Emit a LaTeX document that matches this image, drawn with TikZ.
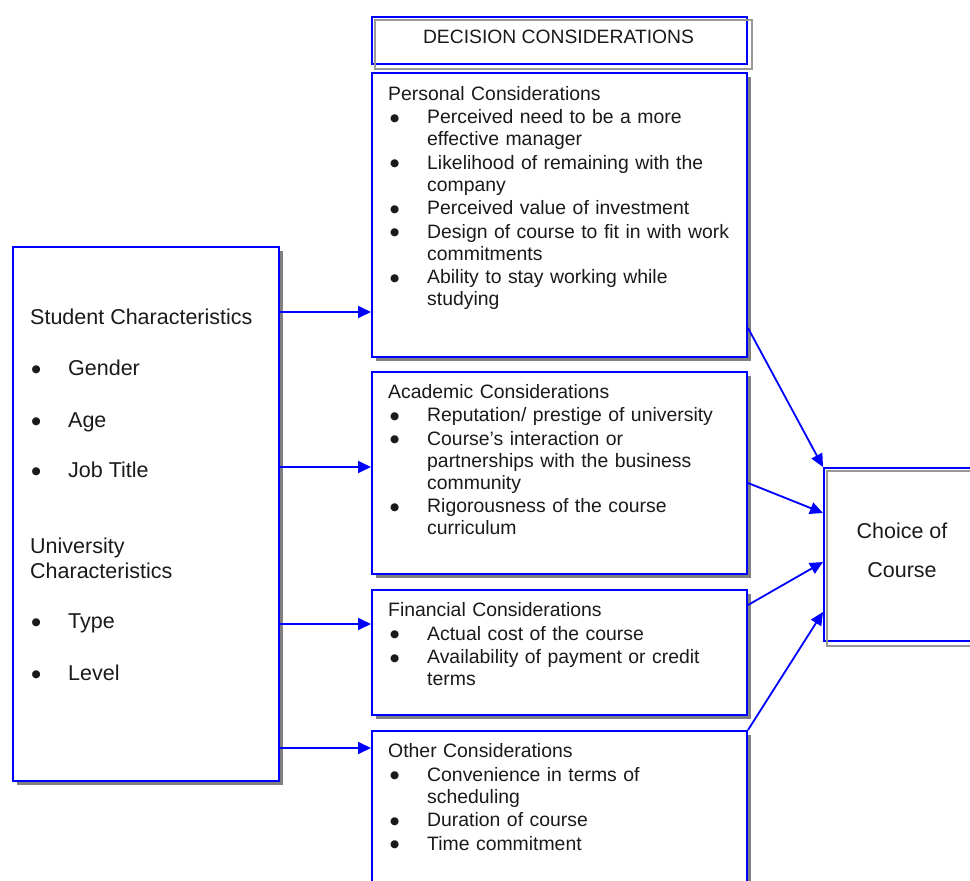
\documentclass[tikz,border=0pt]{standalone}
\usepackage{fontspec}
\setmainfont{Liberation Sans}
\newfontfamily\symfont{DejaVu Sans}
\usetikzlibrary{arrows.meta,shadows}

\definecolor{lineblue}{RGB}{0,0,255}
\definecolor{shadowgray}{RGB}{128,128,128}
\definecolor{ink}{RGB}{26,26,26}

% round bullet glyph
\newcommand\bigbul{\raisebox{2.6pt}{\symfont\fontsize{10.5}{10.5}\selectfont ●}}
% bulleted entry with a hanging indent
\newcommand\itm[1]{\par\hangindent=39pt\hangafter=1\noindent\makebox[39pt][l]{\hspace{1.8pt}\bigbul}#1\par}
% bullet line for the characteristics column
\newcommand\cbul[1]{\makebox[38pt][l]{\hspace{1.3pt}\bigbul}#1}

\begin{document}
\begin{tikzpicture}[x=1pt,y=-1pt,
  conbox/.style={rectangle, draw=lineblue, line width=2pt, fill=white, inner sep=0pt, anchor=north west,
    drop shadow={shadow xshift=3.5pt, shadow yshift=-3.5pt, fill=shadowgray, opacity=1}},
  hdrbox/.style={rectangle, draw=lineblue, line width=2pt, inner sep=0pt, anchor=north west},
  ghost/.style={draw=shadowgray!80, line width=1.5pt},
  lst/.style={anchor=north west, inner sep=0pt, text width=355pt, align=left, text=ink,
    font=\fontsize{19.4}{22}\selectfont},
  bigtext/.style={inner sep=0pt, text=ink, font=\fontsize{21.5}{25}\selectfont},
  arr/.style={draw=lineblue, line width=1.8pt, -{Triangle[length=13pt,width=12pt]}}
]
\useasboundingbox (0,0) rectangle (970,881);
\clip (0,0) rectangle (970,881);

% heading box
\node[hdrbox, minimum width=375pt, minimum height=47pt] (hdr) at (371,16) {};
\draw[ghost] ([shift={(4pt,-4pt)}]hdr.north west) rectangle ([shift={(4pt,-4pt)}]hdr.south east);
\node[anchor=base, inner sep=0pt, text=ink, font=\fontsize{19.3}{22}\selectfont] (hdrtxt) at (558.5,43) {DECISION CONSIDERATIONS};

% consideration boxes
\node[conbox, minimum width=375pt, minimum height=284pt] (pers) at (371,72) {};
\node[conbox, minimum width=375pt, minimum height=202pt] (acad) at (371,371) {};
\node[conbox, minimum width=375pt, minimum height=125pt] (fin) at (371,589) {};
\node[conbox, minimum width=375pt, minimum height=180pt] (oth) at (371,730) {};

\node[lst] (perstxt) at (388,84.5) {\setlength{\parskip}{1.5pt}\strut Personal Considerations
\itm{Perceived need to be a more\newline effective manager}
\itm{Likelihood of remaining with the\newline company}
\itm{Perceived value of investment}
\itm{Design of course to fit in with work\newline commitments}
\itm{Ability to stay working while\newline studying}};

\node[lst] (acadtxt) at (388,382.5) {\setlength{\parskip}{1.5pt}\strut Academic Considerations
\itm{Reputation/ prestige of university}
\itm{Course’s interaction or\newline partnerships with the business\newline community}
\itm{Rigorousness of the course\newline curriculum}};

\node[lst] (fintxt) at (388,601) {\setlength{\parskip}{1.5pt}\strut Financial Considerations
\itm{Actual cost of the course}
\itm{Availability of payment or credit\newline terms}};

\node[lst] (othtxt) at (388,742) {\setlength{\parskip}{1.5pt}\strut Other Considerations
\itm{Convenience in terms of\newline scheduling}
\itm{Duration of course}
\itm{Time commitment}};

% characteristics column
\node[conbox, minimum width=266pt, minimum height=534pt] (stud) at (12,246) {};
\node[bigtext, anchor=base west] (sc) at (30,324) {Student Characteristics};
\node[bigtext, anchor=base west] (gen) at (30,375) {\cbul{Gender}};
\node[bigtext, anchor=base west] (age) at (30,427) {\cbul{Age}};
\node[bigtext, anchor=base west] (job) at (30,477) {\cbul{Job Title}};
\node[bigtext, anchor=base west] (uc1) at (30,553) {University};
\node[bigtext, anchor=base west] (uc2) at (30,578) {Characteristics};
\node[bigtext, anchor=base west] (typ) at (30,628) {\cbul{Type}};
\node[bigtext, anchor=base west] (lev) at (30,680) {\cbul{Level}};

% outcome box
\node[hdrbox, minimum width=160pt, minimum height=173pt] (choice) at (823,467) {};
\draw[ghost] ([shift={(4pt,-4pt)}]choice.north west) rectangle ([shift={(4pt,-4pt)}]choice.south east);
\node[bigtext, anchor=base] (ch1) at (902,538) {Choice of};
\node[bigtext, anchor=base] (ch2) at (902,577) {Course};

% connectors from the characteristics column
\coordinate (r1) at (0,312);
\coordinate (r2) at (0,467);
\coordinate (r3) at (0,624);
\coordinate (r4) at (0,748);
\draw[arr] (stud.east |- r1) -- (pers.west |- r1);
\draw[arr] (stud.east |- r2) -- (acad.west |- r2);
\draw[arr] (stud.east |- r3) -- (fin.west |- r3);
\draw[arr] (stud.east |- r4) -- (oth.west |- r4);

% connectors into the outcome box
\coordinate (s1) at (0,328);
\coordinate (s2) at (0,483);
\coordinate (e2) at (0,513);
\coordinate (s3) at (0,605);
\coordinate (e3) at (0,562);
\coordinate (e4) at (0,612);
\draw[arr] (pers.east |- s1) -- (choice.north west);
\draw[arr] (acad.east |- s2) -- (choice.west |- e2);
\draw[arr] (fin.east |- s3) -- (choice.west |- e3);
\draw[arr] (oth.north east) -- (choice.west |- e4);
\end{tikzpicture}
\end{document}
